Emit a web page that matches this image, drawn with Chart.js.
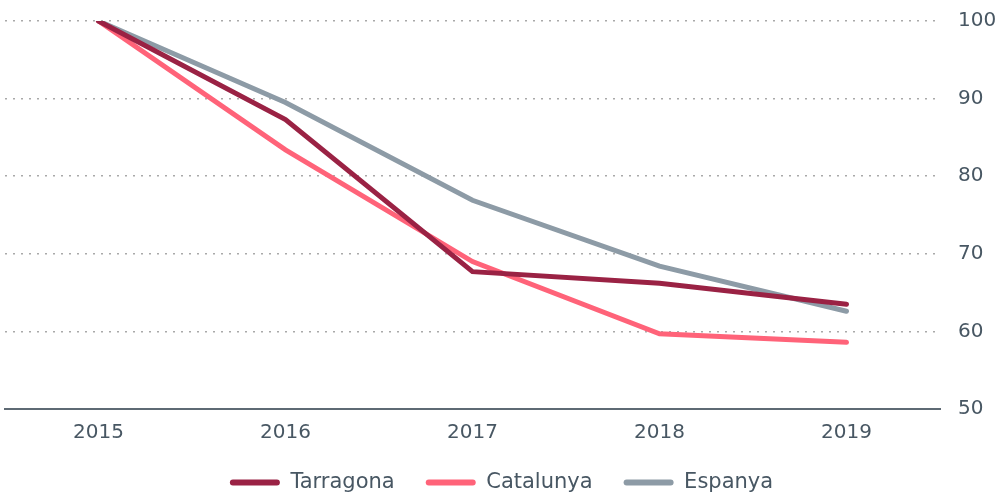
<!DOCTYPE html>
<html>
<head>
<meta charset="utf-8">
<script src="https://cdn.jsdelivr.net/npm/chart.js@4"></script>
<style>
  html, body { margin: 0; padding: 0; background: #fff; }
  #wrap { width: 1002px; height: 493px; }
</style>
</head>
<body>
<div id="wrap"><canvas id="chart"></canvas></div>
<script>
const years = ["2015", "2016", "2017", "2018", "2019"];
const tarragona = [100, 87.3, 67.7, 66.2, 63.5];
const catalunya = [100, 83.4, 69.0, 59.7, 58.6];
const espanya = [100, 89.5, 76.9, 68.4, 62.6];

const textColor = "#485763";
const font = { family: "'DejaVu Sans', sans-serif", size: 20 };

new Chart(document.getElementById("chart"), {
  type: "line",
  data: {
    labels: years,
    datasets: [
      { label: "Tarragona", data: tarragona, borderColor: "#9a2244", backgroundColor: "#9a2244" },
      { label: "Catalunya", data: catalunya, borderColor: "#ff6379", backgroundColor: "#ff6379" },
      { label: "Espanya", data: espanya, borderColor: "#8d9ba6", backgroundColor: "#8d9ba6" },
    ].map((ds) => ({ ...ds, borderWidth: 5, pointRadius: 0, tension: 0, borderCapStyle: "round", borderJoinStyle: "miter" })),
  },
  options: {
    responsive: true,
    maintainAspectRatio: false,
    animation: false,
    layout: { padding: { left: 5, right: 4, top: 21, bottom: -10 } },
    plugins: {
      tooltip: { enabled: false },
      legend: {
        position: "bottom",
        labels: {
          color: textColor,
          font: { family: font.family, size: 21 },
          boxWidth: 50,
          boxHeight: 6,
          useBorderRadius: true,
          borderRadius: 3,
          padding: 31,
          generateLabels(chart) {
            return Chart.defaults.plugins.legend.labels.generateLabels(chart).map((item) => ({ ...item, lineWidth: 0 }));
          },
        },
      },
    },
    scales: {
      x: {
        offset: true,
        grid: { display: false, drawTicks: false },
        border: { display: true, color: "#5e6a74", width: 2 },
        ticks: { color: textColor, font, padding: 12 },
        afterFit(axis) { axis.height = 32; },
      },
      y: {
        position: "right",
        min: 50,
        max: 100,
        ticks: { stepSize: 10, color: textColor, font, padding: 18 },
        grid: { color: "#a9a9a9", lineWidth: 1.5, drawTicks: false },
        border: { display: false, dash: [2, 6] },
        afterFit(axis) {
          axis.width = 58;
          axis.paddingTop = 0;
          axis.paddingBottom = 0;
        },
      },
    },
  },
});
</script>
</body>
</html>
